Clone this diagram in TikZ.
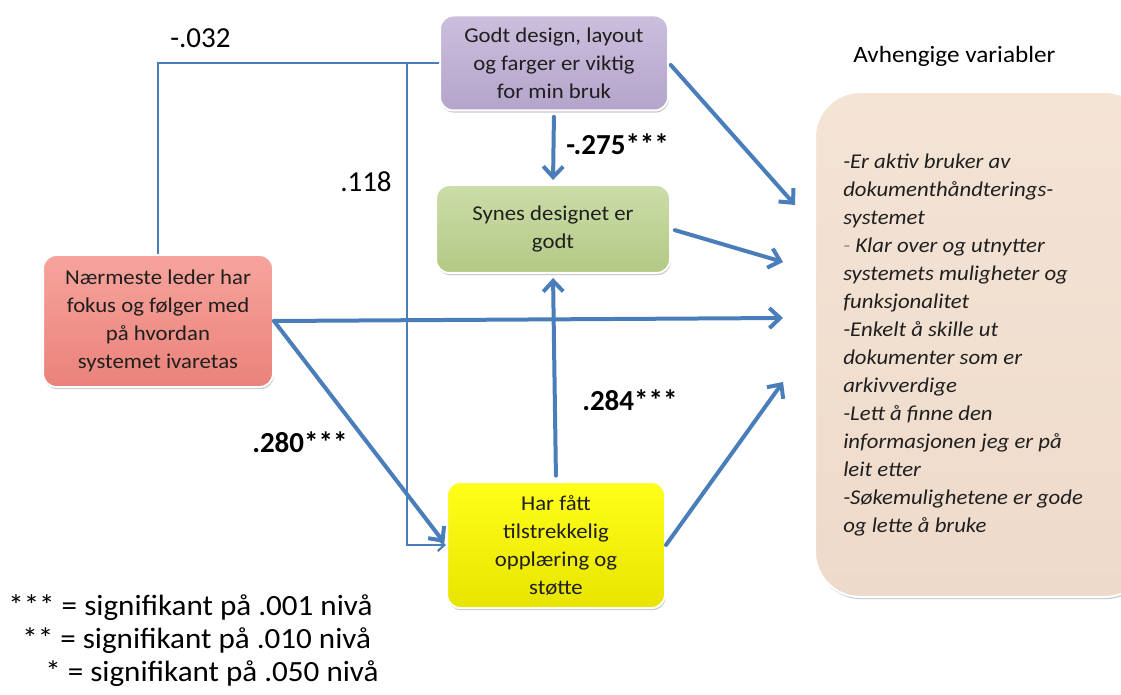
\documentclass[tikz,border=0pt]{standalone}
\usepackage{fontspec}
\setmainfont{Carlito}
\newfontfamily\boxfont{Carlito}[FakeStretch=1.08]
\newfontfamily\legfont{Carlito}[FakeStretch=1.06]
\usetikzlibrary{arrows.meta,shadows}
\definecolor{linkblue}{HTML}{4A7EBB}
\definecolor{purpleT}{HTML}{CBBFDD}
\definecolor{purpleB}{HTML}{B4A4CB}
\definecolor{greenT}{HTML}{CCDDA8}
\definecolor{greenB}{HTML}{B3C985}
\definecolor{redT}{HTML}{F6A49D}
\definecolor{redB}{HTML}{EA827A}
\definecolor{yellowT}{HTML}{FFFF1A}
\definecolor{yellowB}{HTML}{E8E400}
\definecolor{peach}{HTML}{F4E4D6}
\definecolor{peachB}{HTML}{EEDACA}
\begin{document}
\begin{tikzpicture}[x=0.75pt,y=-0.75pt,
  box/.style={rectangle, rounded corners=10pt, draw=white, line width=1.5pt,
    align=center, inner sep=0pt, text=black!88,
    font=\boxfont\fontsize{15.8}{21}\selectfont,
    drop shadow={shadow xshift=0.6pt, shadow yshift=-1.6pt, opacity=0.3, fill=black!70}},
  link/.style={draw=linkblue, line width=1.6pt},
  flow/.style={draw=linkblue, line width=3pt, line cap=round,
    -{Straight Barb[length=8pt,width=15pt,line width=3pt]}},
  coef/.style={font=\fontsize{21.75}{26}\selectfont, inner sep=0pt, anchor=base west},
  coefb/.style={coef, font=\bfseries\fontsize{21.75}{26}\selectfont},
  leg/.style={font=\legfont\fontsize{22}{24}\selectfont, inner sep=0pt, anchor=base west}]

% page frame
\fill[white] (0,0) rectangle (1121,695);
\clip (0,0) rectangle (1121,695);

% dependent variables panel
\node[box, rounded corners=34pt, top color=peach, bottom color=peachB,
  minimum width=251.25pt, minimum height=378.75pt] (dep) at (982.5,344.5) {};
% base anchor of a multi-line node sits on its last line
\node[anchor=base west, align=left, inner sep=0pt, text=black!88,
  font=\boxfont\itshape\fontsize{15.8}{21}\selectfont] (deptext) at (843,532)
  {-Er aktiv bruker av\\dokumenthåndterings-\\systemet\\{\color{black!45}-} Klar over og utnytter\\systemets muligheter og\\funksjonalitet\\-Enkelt å skille ut\\dokumenter som er\\arkivverdige\\-Lett å finne den\\informasjonen jeg er på\\leit etter\\-Søkemulighetene er gode\\og lette å bruke};
\node[anchor=base west, inner sep=0pt, font=\boxfont\fontsize{17.5}{21}\selectfont]
  (head) at (853,63) {Avhengige variabler};

% predictor boxes
\node[box, top color=purpleT, bottom color=purpleB,
  minimum width=171pt, minimum height=71.25pt] (design) at (554,63)
  {Godt design, layout\\og farger er viktig\\for min bruk};
\node[box, top color=greenT, bottom color=greenB,
  minimum width=175.5pt, minimum height=66pt] (good) at (553,229)
  {Synes designet er\\godt};
\node[box, top color=redT, bottom color=redB,
  minimum width=172.5pt, minimum height=99pt] (lead) at (158,321)
  {Nærmeste leder har\\fokus og følger med\\på hvordan\\systemet ivaretas};
\node[box, top color=yellowT, bottom color=yellowB,
  minimum width=163.5pt, minimum height=94.5pt] (train) at (556,545)
  {Har fått\\tilstrekkelig\\opplæring og\\støtte};

% free ends of the arrows into the panel
\coordinate (e1) at (795,205);
\coordinate (e2) at (783,262);
\coordinate (e3) at (783,318);
\coordinate (e4) at (783,382);
\coordinate (j) at (407,63);

% thin paths
\draw[link] (design.west) -| (lead.north);
\draw[link, -{Straight Barb[length=5pt,width=9pt]}] (j) |- (train.west);

% thick arrows
\draw[flow, shorten <=4pt, shorten >=3pt] (design.south) -- (good.north);
\draw[flow, shorten <=4pt, shorten >=3pt] (train.north) -- (good.south);
\draw[flow, shorten >=2pt] (lead.east) -- (train.west);
\draw[flow] (lead.east) -- (e3);
\draw[flow, shorten <=2pt] (design.east) -- (e1);
\draw[flow, shorten <=3pt] (good.east) -- (e2);
\draw[flow] (train.east) -- (e4);

% coefficients
\node[coef] (c1) at (170,48) {-.032};
\node[coef] (c2) at (340,192) {.118};
\node[coefb] (c3) at (566,155) {-.275***};
\node[coefb] (c4) at (582,410) {.284***};
\node[coefb] (c5) at (252,452) {.280***};

% significance legend
\node[leg] (l1) at (8,615) {*** = signifikant på .001 nivå};
\node[leg] (l2) at (22,648) {** = signifikant på .010 nivå};
\node[leg] (l3) at (45,681) {* = signifikant på .050 nivå};
\end{tikzpicture}
\end{document}
